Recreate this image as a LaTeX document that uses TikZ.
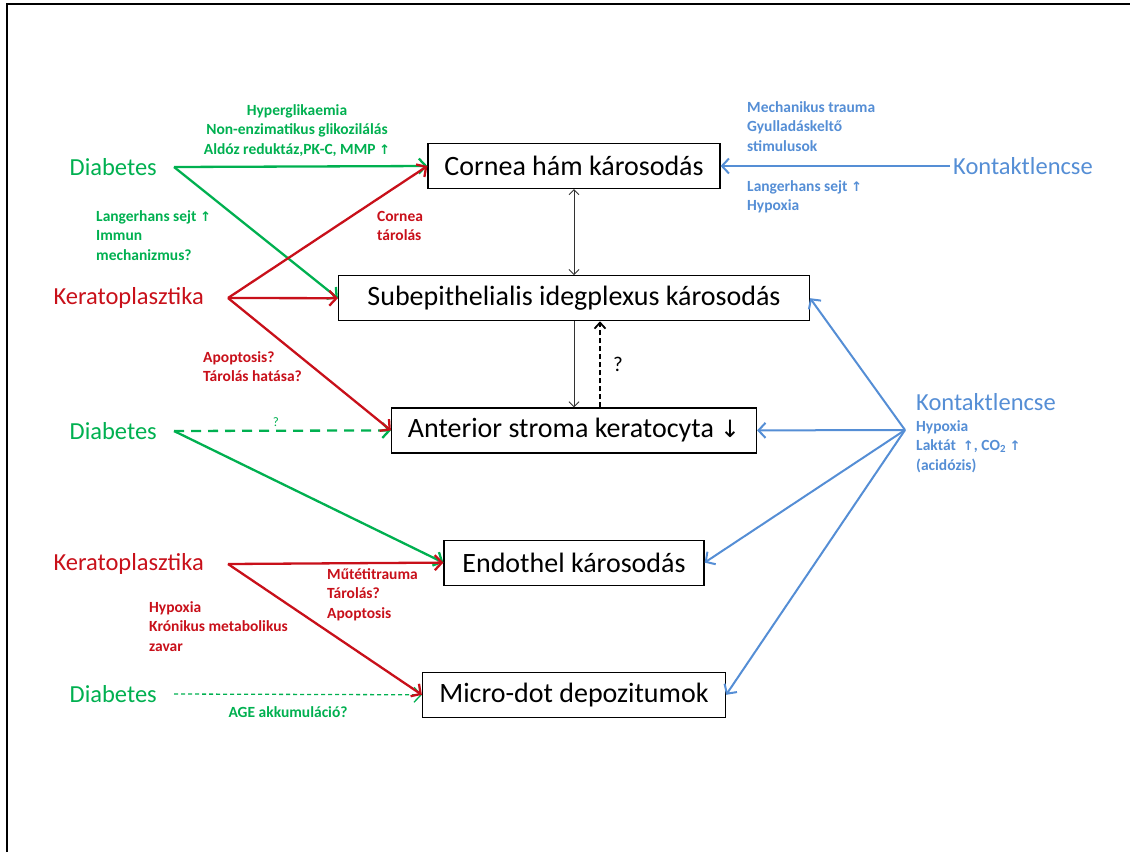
\documentclass[tikz,border=0pt]{standalone}
\usepackage{fontspec}
\setmainfont{Carlito}
\newfontfamily\glyphfont{DejaVu Sans}[Scale=0.85]
\usetikzlibrary{arrows.meta, positioning}
\definecolor{diagreen}{RGB}{0,176,80}
\definecolor{diared}{RGB}{200,16,26}
\definecolor{diablue}{RGB}{85,142,213}
\newcommand{\upar}{{\glyphfont ↑}}
\newcommand{\downar}{{\glyphfont ↓}}
\tikzset{
    damage/.style={rectangle, minimum height=45pt, inner xsep=15pt, text centered, draw=black, line width=1.2pt, font=\fontsize{28}{34}\selectfont},
    cause/.style={inner ysep=0pt, font=\fontsize{24.5}{29}\selectfont},
    note/.style={inner sep=0pt, align=left, font=\fontsize{15.5}{19.5}\selectfont\bfseries},
    colarrow/.style={line width=2.3pt, -{Straight Barb[length=7pt,width=15pt]}},
    thinarrow/.style={line width=0.9pt, draw=black!80, -{Straight Barb[length=5pt,width=10pt]}}
}

\begin{document}
\begin{tikzpicture}[x=1pt, y=-1pt]
    \useasboundingbox (0,0) rectangle (1130,852);
    \draw [line width=1.5pt] (7,852) -- (7,4) -- (1130,4);

    % damage boxes
    \node (cornea) [damage, minimum width=292pt] at (574,166) {Cornea hám károsodás};
    \node (subep) [damage, minimum width=471pt, below=86pt of cornea] {Subepithelialis idegplexus károsodás};
    \node (anter) [damage, minimum width=365pt, below=86pt of subep] {Anterior stroma keratocyta \downar};
    \node (endo) [damage, minimum width=260pt, below=86pt of anter] {Endothel károsodás};
    \node (micro) [damage, minimum width=303pt, below=86pt of endo] {Micro-dot depozitumok};

    % causes
    \node (dia1) [cause, text=diagreen, anchor=east, inner xsep=17pt] at (174,167) {Diabetes};
    \node (kerat1) [cause, text=diared, anchor=east, inner xsep=24pt] at (228,298) {Keratoplasztika};
    \node (dia2) [cause, text=diagreen, anchor=east, inner xsep=17pt] at (174,431) {Diabetes};
    \node (kerat2) [cause, text=diared, anchor=east, inner xsep=24pt] at (228,564) {Keratoplasztika};
    \node (dia3) [cause, text=diagreen, anchor=east, inner xsep=17pt] at (174,694) {Diabetes};
    \node (kon1) [cause, text=diablue, anchor=west, inner xsep=3pt] at (950,166) {Kontaktlencse};
    \node (kon2) [cause, text=diablue, anchor=west, inner xsep=0pt] at (916,402) {Kontaktlencse};
    \coordinate (hub) at (905,430);

    % notes
    \node (hyper) [note, align=center, text=diagreen, anchor=north] at (297,104) {Hyperglikaemia\\Non-enzimatikus glikozilálás\\Aldóz reduktáz,PK-C, MMP \upar};
    \node (langd) [note, text=diagreen, anchor=north west] at (96,210) {Langerhans sejt \upar\\Immun\\mechanizmus?};
    \node (ctarol) [note, text=diared, anchor=north west] at (377,211) {Cornea\\tárolás};
    \node (mech) [note, text=diablue, anchor=north west] at (747,101) {Mechanikus trauma\\Gyulladáskeltő\\stimulusok};
    \node (langk) [note, text=diablue, anchor=north west] at (747,180) {Langerhans sejt \upar\\Hypoxia};
    \node (apopt) [note, text=diared, anchor=north west] at (203,351) {Apoptosis?\\Tárolás hatása?};
    \node (hypk) [note, text=diablue, anchor=north west] at (916,420) {Hypoxia\\Laktát~~\upar, CO\textsubscript{2} \upar\\(acidózis)};
    \node (mutet) [note, text=diared, anchor=north west] at (327,568) {Műtétitrauma\\Tárolás?\\Apoptosis};
    \node (hypkr) [note, text=diared, anchor=north west] at (149,601) {Hypoxia\\Krónikus metabolikus\\zavar};

    % connectors
    \draw [colarrow, diagreen] (dia1.east) -- (cornea.west);
    \draw [colarrow, diagreen] (dia1.east) -- (subep.west);
    \draw [colarrow, diagreen, dash pattern=on 10pt off 7pt] (dia2.east) -- (anter.west)
        node (qgreen) [pos=0.47, above=3pt, note, font=\fontsize{13}{15}\selectfont] {?};
    \draw [colarrow, diagreen] (dia2.east) -- (endo.west);
    \draw [colarrow, diagreen, line width=1.3pt, dash pattern=on 4pt off 3pt] (dia3.east) -- (micro.west)
        node (age) [pos=0.46, below=12pt, note, text=diagreen] {AGE akkumuláció?};
    \draw [colarrow, diared] (kerat1.east) -- (cornea.west);
    \draw [colarrow, diared] (kerat1.east) -- (subep.west);
    \draw [colarrow, diared] (kerat1.east) -- (anter.west);
    \draw [colarrow, diared] (kerat2.east) -- (endo.west);
    \draw [colarrow, diared] (kerat2.east) -- (micro.west);
    \draw [colarrow, diablue, line width=2pt] (kon1.west) -- (cornea.east);
    \foreach \target in {subep, anter, endo, micro}
        \draw [colarrow, diablue, line width=2pt] (hub) -- (\target.east);

    \draw [thinarrow, {Straight Barb[length=5pt,width=10pt]}-{Straight Barb[length=5pt,width=10pt]}] (cornea.south) -- (subep.north);
    \draw [thinarrow] (subep.south) -- (anter.north);
    \draw [line width=1.8pt, dash pattern=on 5pt off 3pt, -{Straight Barb[length=6pt,width=11pt]}] ([xshift=26pt]anter.north) -- ([xshift=26pt]subep.south)
        node (qblack) [midway, right=9pt, font=\fontsize{21}{25}\selectfont] {?};
\end{tikzpicture}
\end{document}
